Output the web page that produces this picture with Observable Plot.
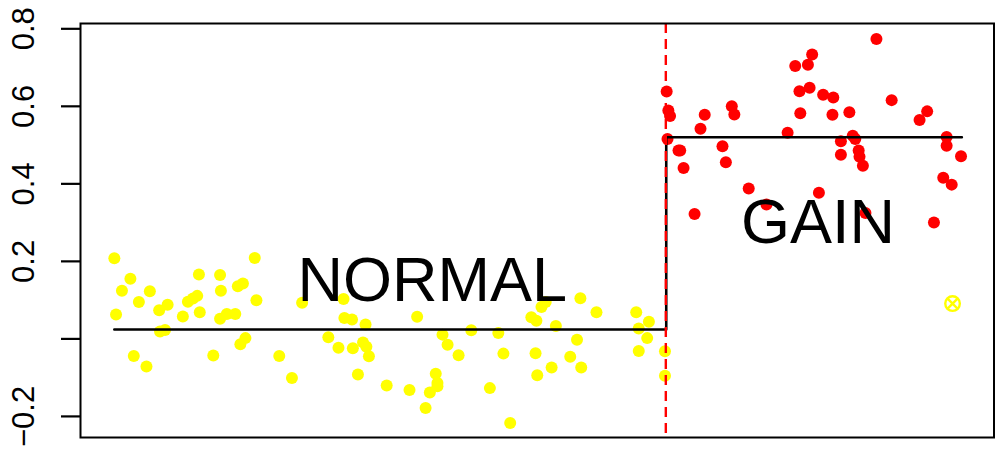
<!DOCTYPE html>
<html>
<head>
<meta charset="utf-8">
<script src="https://cdn.jsdelivr.net/npm/d3@7"></script>
<script src="https://cdn.jsdelivr.net/npm/@observablehq/plot@0.6"></script>
<style>
  html, body { margin: 0; padding: 0; background: #fff; }
  #chart svg { display: block; font-family: "Liberation Sans", Arial, Helvetica, sans-serif; }
</style>
</head>
<body>
<div id="chart"></div>
<script>
// ---- data ----
const normalX = [0.0,0.2,0.9,1.9,2.3,2.9,3.8,4.2,5.3,5.4,6.0,6.3,8.1,8.7,9.3,9.8,10.0,10.1,11.7,12.5,12.5,12.6,13.3,14.3,14.6,14.9,15.2,15.5,16.6,16.8,19.5,21.0,22.2,25.3,26.5,27.1,27.2,28.1,28.2,28.8,29.4,29.8,29.7,30.1,32.2,34.9,35.8,36.8,37.3,38.0,38.2,38.2,38.8,39.4,40.7,42.2,44.4,45.4,46.0,46.8,49.3,49.9,49.8,50.0,50.5,51.0,51.7,52.2,53.9,54.7,55.1,55.2,57.0,61.7,62.0,62.0,63.0,63.2,65.1,65.1];
const normalY = [0.208,0.063,0.124,0.155,-0.044,0.095,-0.071,0.123,0.074,0.019,0.023,0.088,0.058,0.096,0.104,0.111,0.166,0.069,-0.043,0.052,0.165,0.124,0.064,0.064,0.136,-0.014,0.143,0.002,0.209,0.100,-0.044,-0.101,0.093,0.004,-0.023,0.103,0.054,0.050,-0.024,-0.092,-0.009,-0.020,0.037,-0.045,-0.120,-0.132,0.057,-0.178,-0.138,-0.090,-0.114,-0.122,0.011,-0.015,-0.042,0.022,-0.127,0.015,-0.038,-0.217,0.056,0.047,-0.037,-0.094,0.082,0.095,-0.074,0.033,-0.046,-0.002,0.105,-0.074,0.069,0.069,0.027,-0.031,0.002,0.044,-0.032,-0.095];
const gainX = [65.3,65.5,65.7,65.4,66.7,66.9,67.3,68.6,69.3,69.8,71.9,72.3,73.0,73.3,75.0,77.1,79.6,80.5,81.0,81.1,82.0,82.2,82.5,83.3,83.8,85.0,84.9,86.9,85.9,85.9,87.3,87.6,88.0,88.1,88.5,88.8,90.1,91.9,95.2,96.1,98.4,98.4,100.1,98.0,99.0,96.9];
const gainY = [0.638,0.589,0.575,0.516,0.486,0.486,0.441,0.322,0.542,0.578,0.497,0.456,0.600,0.579,0.388,0.347,0.532,0.704,0.639,0.582,0.707,0.648,0.734,0.377,0.630,0.623,0.578,0.585,0.510,0.475,0.524,0.516,0.486,0.470,0.447,0.325,0.774,0.616,0.565,0.587,0.521,0.498,0.471,0.416,0.398,0.300];
const outlierX = [99.1];
const outlierY = [0.091];
const stepX = [0, 65.25, 65.25, 100.2];
const stepY = [0.0243, 0.0243, 0.5204, 0.5204];
const boundaryX = [65.2];
const labelText = ["NORMAL", "GAIN"];
const labelX = [37.6, 83.2];
const labelY = [0.151, 0.300];
const yTickValues = [-0.2, 0.0, 0.2, 0.4, 0.6, 0.8];
const yTickLabels = ["\u22120.2", "", "0.2", "0.4", "0.6", "0.8"];

// ---- tables built from the arrays ----
const normal = normalX.map((x, i) => ({x, y: normalY[i]}));
const gain = gainX.map((x, i) => ({x, y: gainY[i]}));
const outlier = outlierX.map((x, i) => ({x, y: outlierY[i]}));
const step = stepX.map((x, i) => ({x, y: stepY[i]}));
const labels = labelText.map((t, i) => ({t, x: labelX[i], y: labelY[i]}));
const ticks = yTickValues.map((v, i) => ({v, t: yTickLabels[i]}));

const chart = Plot.plot({
  width: 995,
  height: 450,
  marginLeft: 80,
  marginRight: 1.5,
  marginTop: 23,
  marginBottom: 13,
  style: {fontFamily: "'Liberation Sans', Arial, Helvetica, sans-serif", background: "#fff"},
  x: {domain: [-4, 104], axis: null},
  y: {domain: [-0.2544, 0.8137], axis: null},
  marks: [
    Plot.axisY({ticks: yTickValues, tickSize: 19, tickFormat: () => "", strokeWidth: 2.2, stroke: "black"}),
    Plot.text(ticks, {y: "v", text: "t", frameAnchor: "left", dx: -47, rotate: -90,
      textAnchor: "middle", lineAnchor: "bottom", fontSize: 31, fill: "black"}),
    Plot.dot(normal, {x: "x", y: "y", r: 6, fill: "#FFFF00", stroke: "none"}),
    Plot.dot(gain, {x: "x", y: "y", r: 6, fill: "#FF0000", stroke: "none"}),
    Plot.dot(outlier, {x: "x", y: "y", r: 7.3, fill: "none", stroke: "#FFFF00", strokeWidth: 2.4}),
    Plot.dot(outlier, {x: "x", y: "y", r: 4.8, symbol: "times", stroke: "#FFFF00", strokeWidth: 2.4}),
    Plot.line(step, {x: "x", y: "y", stroke: "black", strokeWidth: 2.6}),
    Plot.ruleX(boundaryX, {stroke: "#FF0000", strokeWidth: 2.4, strokeDasharray: "10,6"}),
    Plot.text(labels, {x: "x", y: "y", text: "t", fontSize: 63, fill: "black",
      textAnchor: "middle", lineAnchor: "middle"}),
    Plot.frame({stroke: "black", strokeWidth: 2})
  ]
});
document.getElementById("chart").appendChild(chart);
</script>
</body>
</html>
